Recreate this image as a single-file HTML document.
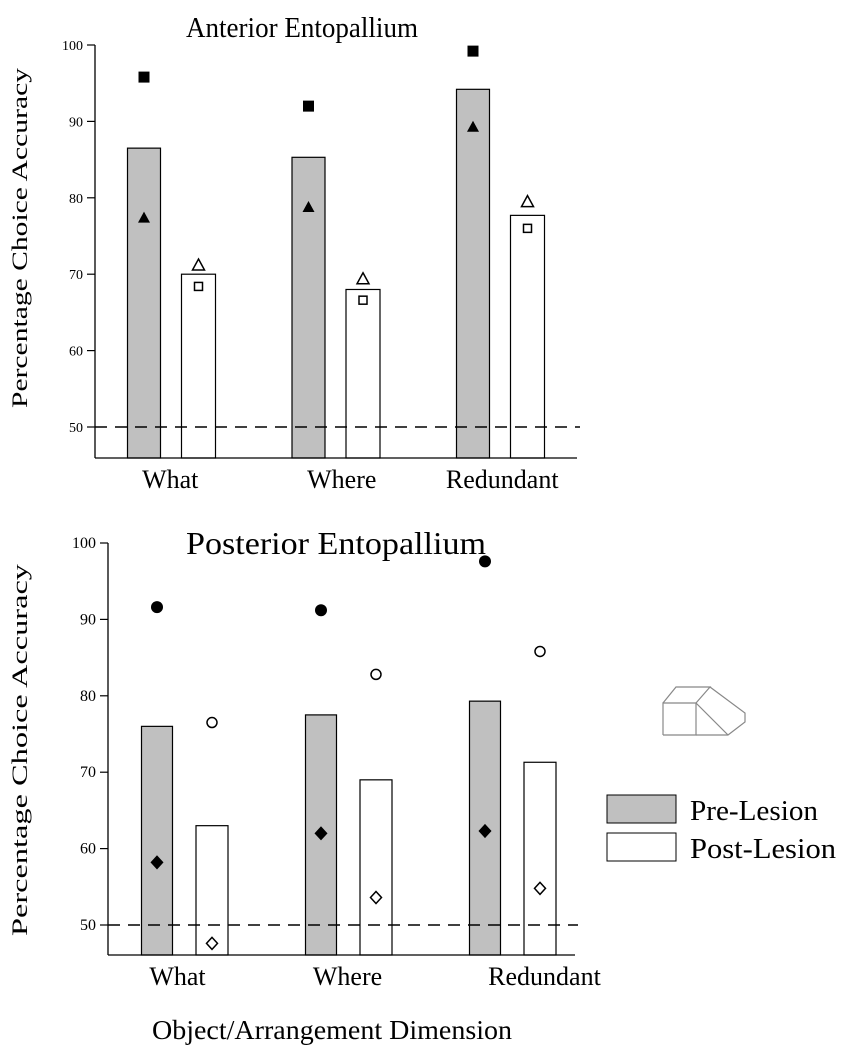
<!DOCTYPE html>
<html><head><meta charset="utf-8">
<style>
body{margin:0;background:#fff;}
svg{display:block;font-family:"Liberation Serif",serif;}
</style></head>
<body>
<svg id="chart" width="844" height="1050" viewBox="0 0 844 1050" xmlns="http://www.w3.org/2000/svg">
<g id="top"></g>
<g id="bot"></g>
<text x="332" y="1039" font-size="27" text-anchor="middle" textLength="360" lengthAdjust="spacingAndGlyphs">Object/Arrangement Dimension</text>
<g fill="none" stroke="#888" stroke-width="1.2">
<polyline points="663,735 663,703 696,703 696,735 663,735"/>
<polyline points="663,703 676,687 710,687 696,703"/>
<polyline points="710,687 745,713 745,722 728,735 696,735"/>
<line x1="696" y1="703" x2="728" y2="735"/>
</g>
<g>
<rect x="607" y="795" width="69" height="28" fill="#c0c0c0" stroke="#000" stroke-width="1"/>
<text x="690" y="820" font-size="28" textLength="128" lengthAdjust="spacingAndGlyphs">Pre-Lesion</text>
<rect x="607" y="833" width="69" height="28" fill="#fff" stroke="#000" stroke-width="1"/>
<text x="690" y="858" font-size="28" textLength="146" lengthAdjust="spacingAndGlyphs">Post-Lesion</text>
</g>
</svg>
<script>
const categories = ["What","Where","Redundant"];
const topPre = [86.5, 85.3, 94.2];
const topPost = [70.0, 68.0, 77.7];
const topPreSquare = [95.8, 92.0, 99.2];
const topPreTriangle = [77.4, 78.8, 89.3];
const topPostTriangle = [71.2, 69.4, 79.5];
const topPostSquare = [68.4, 66.6, 76.0];
const botPre = [76.0, 77.5, 79.3];
const botPost = [63.0, 69.0, 71.3];
const botPreCircle = [91.6, 91.2, 97.6];
const botPreDiamond = [58.2, 62.0, 62.3];
const botPostCircle = [76.5, 82.8, 85.8];
const botPostDiamond = [47.6, 53.6, 54.8];
const yTicks = [50, 60, 70, 80, 90, 100];
const chanceLevel = 50;
const NS = "http://www.w3.org/2000/svg";
function mk(parent, tag, attrs){const e=document.createElementNS(NS,tag);for(const k in attrs)e.setAttribute(k,attrs[k]);parent.appendChild(e);return e;}

function drawChart(g, cfg){
  const y = v => cfg.y50 - (v-50)*cfg.ppu;
  const xc = (i,s) => cfg.x0 + i*cfg.step + (s?cfg.off:0);
  [cfg.pre, cfg.post].forEach((arr,s)=>{
    arr.forEach((v,i)=>{
      const w = s?cfg.wPost:cfg.wPre;
      const r = mk(g,'rect',{x:xc(i,s)-w/2,y:y(v),width:w,height:cfg.yBase-y(v),fill:s?'#fff':'#c0c0c0',stroke:'#000','stroke-width':1.2});
      
      
    });
  });
  const dl = mk(g,'line',{x1:cfg.ax,x2:cfg.xEnd+3,y1:y(chanceLevel),y2:y(chanceLevel),stroke:'#000','stroke-width':1.5,'stroke-dasharray':'12,8'});
  
  
  const ya = mk(g,'line',{x1:cfg.ax,x2:cfg.ax,y1:y(100),y2:cfg.yBase,stroke:'#000','stroke-width':1.3});
  
  
  const xa = mk(g,'line',{x1:cfg.ax,x2:cfg.xEnd,y1:cfg.yBase,y2:cfg.yBase,stroke:'#000','stroke-width':1.3});
  
  
  yTicks.forEach(t=>{
    const tk = mk(g,'line',{x1:cfg.ax-8,x2:cfg.ax,y1:y(t),y2:y(t),stroke:'#000','stroke-width':1.2});
    
    
    const tl = mk(g,'text',{x:cfg.ax-12,y:y(t)+5,'font-size':cfg.tickFs,'text-anchor':'end'});
    tl.textContent = t;
    
    
  });
  categories.forEach((c,i)=>{
    const t = mk(g,'text',{x:(xc(i,0)+xc(i,1))/2+cfg.labelShift[i],y:cfg.yBase+30,'font-size':26,'text-anchor':'middle'});
    t.textContent = c;
    
    
  });
  cfg.markers.forEach(m=>{
    m.data.forEach((v,i)=>{
      const cx = xc(i,m.s), cy = y(v);
      const fill = m.filled?'#000':'#fff';
      let e;
      if(m.shape==='square') e = mk(g,'rect',{x:cx-5.5,y:cy-5.5,width:11,height:11,fill:fill});
      else if(m.shape==='square-o') e = mk(g,'rect',{x:cx-4,y:cy-4,width:8,height:8,fill:'#fff',stroke:'#000','stroke-width':1.5});
      else if(m.shape==='tri') e = mk(g,'polygon',{points:`${cx},${cy-6} ${cx+6},${cy+5} ${cx-6},${cy+5}`,fill:fill,stroke:'#000','stroke-width':m.filled?0:1.5});
      else if(m.shape==='circle') e = mk(g,'circle',{cx:cx,cy:cy,r:m.filled?6:5,fill:fill,stroke:'#000','stroke-width':m.filled?0:1.5});
      else e = mk(g,'polygon',{points:`${cx},${cy-6} ${cx+5.5},${cy} ${cx},${cy+6} ${cx-5.5},${cy}`,fill:fill,stroke:'#000','stroke-width':1.5});
      
      
    });
  });
  const tt = mk(g,'text',{x:cfg.titleX,y:cfg.titleY,'font-size':cfg.titleFs,textLength:cfg.titleW,lengthAdjust:'spacingAndGlyphs'});
  tt.textContent = cfg.title;
  
  
  const yt = mk(g,'text',{x:0,y:0,'font-size':22,'text-anchor':'middle',textLength:cfg.ytLen,lengthAdjust:'spacingAndGlyphs',transform:`translate(${cfg.ytX},${cfg.ytY}) rotate(-90)`});
  yt.textContent = 'Percentage Choice Accuracy';
  
  
}

drawChart(document.getElementById('top'), {
  y50:427, ppu:7.64, yBase:458, ax:95, xEnd:577, x0:144, step:164.5, off:54.5, wPre:33, wPost:34, tickFs:14,
  labelShift:[-1,6,2],
  pre:topPre, post:topPost, title:'Anterior Entopallium', titleX:186, titleY:37, titleFs:29, titleW:232, ytX:27, ytY:238, ytLen:340,
  markers:[
    {data:topPreSquare,s:0,shape:'square',filled:true,name:'pre-square'},
    {data:topPreTriangle,s:0,shape:'tri',filled:true,name:'pre-triangle'},
    {data:topPostTriangle,s:1,shape:'tri',filled:false,name:'post-triangle'},
    {data:topPostSquare,s:1,shape:'square-o',filled:false,name:'post-square'}
  ]
});
drawChart(document.getElementById('bot'), {
  y50:925, ppu:7.64, yBase:955, ax:108, xEnd:575, x0:157, step:164, off:55, wPre:31, wPost:32, tickFs:16,
  labelShift:[-7,-1,32],
  pre:botPre, post:botPost, title:'Posterior Entopallium', titleX:186, titleY:554, titleFs:32, titleW:300, ytX:27, ytY:750, ytLen:372,
  markers:[
    {data:botPreCircle,s:0,shape:'circle',filled:true,name:'pre-circle'},
    {data:botPreDiamond,s:0,shape:'diamond',filled:true,name:'pre-diamond'},
    {data:botPostCircle,s:1,shape:'circle',filled:false,name:'post-circle'},
    {data:botPostDiamond,s:1,shape:'diamond',filled:false,name:'post-diamond'}
  ]
});
</script>
</body></html>
